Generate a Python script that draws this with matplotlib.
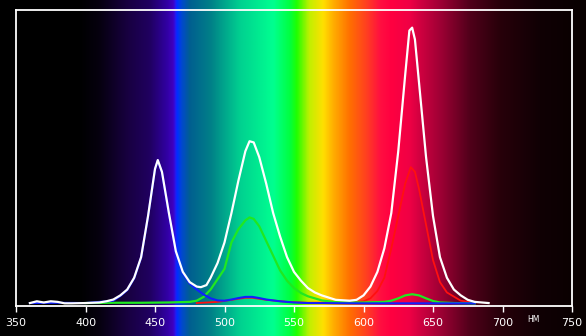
import numpy as np
import matplotlib
matplotlib.use("Agg")
import matplotlib.pyplot as plt
from matplotlib.colors import LinearSegmentedColormap

# spectrum data (nm, relative level)
white_nm = [360, 365, 370, 375, 380, 385, 390, 400, 410, 415, 420, 425, 430, 435, 440, 445,
            450, 452, 455, 460, 465, 470, 475, 480, 483, 487, 490, 495, 500, 505, 510, 515,
            518, 521, 525, 530, 535, 540, 545, 550, 555, 560, 565, 570, 580, 590, 595, 600,
            605, 610, 615, 620, 625, 630, 633, 635, 637, 640, 645, 650, 655, 660, 665, 670,
            675, 680, 690]
white_val = [0.004, 0.010, 0.006, 0.010, 0.008, 0.003, 0.003, 0.004, 0.006, 0.010, 0.016, 0.030,
             0.050, 0.090, 0.160, 0.300, 0.460, 0.490, 0.450, 0.310, 0.180, 0.110, 0.075, 0.060,
             0.058, 0.065, 0.090, 0.140, 0.210, 0.310, 0.420, 0.520, 0.554, 0.550, 0.500, 0.410,
             0.310, 0.230, 0.160, 0.110, 0.080, 0.055, 0.040, 0.030, 0.015, 0.012, 0.015, 0.030,
             0.060, 0.110, 0.190, 0.310, 0.520, 0.780, 0.930, 0.940, 0.900, 0.750, 0.500, 0.300,
             0.160, 0.090, 0.050, 0.030, 0.015, 0.008, 0.004]

blue_nm = [360, 380, 400, 420, 425, 430, 435, 440, 445, 450, 452, 455, 460, 465, 470, 475,
           480, 485, 490, 495, 500, 505, 510, 515, 520, 525, 530, 540, 550, 560, 600, 650, 680]
blue_val = [0.004, 0.005, 0.004, 0.012, 0.028, 0.048, 0.088, 0.158, 0.298, 0.458, 0.488, 0.448,
            0.308, 0.178, 0.105, 0.070, 0.050, 0.033, 0.020, 0.013, 0.012, 0.016, 0.021, 0.025,
            0.025, 0.021, 0.016, 0.010, 0.006, 0.004, 0.003, 0.003, 0.003]

green_nm = [400, 420, 440, 460, 475, 480, 485, 490, 495, 500, 505, 510, 515, 518, 521, 525,
            530, 535, 540, 545, 550, 555, 560, 570, 580, 600, 615, 620, 625, 630, 635, 640,
            645, 650, 655, 665, 680]
green_val = [0.004, 0.005, 0.005, 0.006, 0.008, 0.012, 0.025, 0.050, 0.085, 0.120, 0.210, 0.255,
             0.285, 0.295, 0.290, 0.265, 0.215, 0.165, 0.115, 0.080, 0.055, 0.038, 0.027, 0.013,
             0.007, 0.006, 0.008, 0.012, 0.020, 0.030, 0.034, 0.030, 0.020, 0.011, 0.006, 0.004,
             0.003]

red_nm = [480, 495, 505, 515, 520, 530, 545, 560, 590, 600, 605, 610, 615, 620, 625, 630,
          634, 637, 640, 645, 650, 655, 660, 670, 680]
red_val = [0.004, 0.008, 0.015, 0.022, 0.022, 0.015, 0.008, 0.005, 0.006, 0.010, 0.020, 0.045,
           0.090, 0.190, 0.300, 0.410, 0.466, 0.450, 0.390, 0.270, 0.150, 0.075, 0.040, 0.012,
           0.005]

xticks = [350, 400, 450, 500, 550, 600, 650, 700, 750]

# background spectrum colours
stops = [(338, "#000000"), (395, "#000000"), (410, "#06000f"), (430, "#180040"),
         (446, "#200060"), (458, "#3000a0"), (463, "#4000c0"), (464.5, "#2818f0"),
         (466, "#0030ff"), (469, "#0048d0"), (475, "#005f90"), (490, "#008088"),
         (511, "#00d090"), (535, "#00ff90"), (547, "#00ff40"), (552, "#20ff00"),
         (561, "#c0f000"), (571, "#ffe000"), (578, "#ffb000"), (590, "#ff7000"),
         (602, "#ff4020"), (612, "#ff1040"), (620, "#ff0040"), (633, "#f00045"),
         (641, "#d00040"), (655, "#a00035"), (677, "#50001a"), (698, "#28000a"),
         (727, "#100004"), (760, "#080000")]

fig = plt.figure(figsize=(5.86, 3.36), dpi=100)
fig.patch.set_facecolor("black")

x0 = 350 - 16 * 400 / 556
x1 = 750 + 14 * 400 / 556
pos = [(w - 338) / (760 - 338) for w, _ in stops]
pos[0], pos[-1] = 0.0, 1.0
cmap = LinearSegmentedColormap.from_list("spec", list(zip(pos, [c for _, c in stops])), N=1024)

bg = fig.add_axes([0, 0, 1, 1])
bg.imshow(np.linspace(0, 1, 1200)[None, :], aspect="auto", cmap=cmap,
          extent=[338, 760, 0, 1], interpolation="bilinear")
bg.set_xlim(x0, x1)
bg.set_ylim(0, 1)
bg.axis("off")

ax = fig.add_axes([16 / 586, 30 / 336, 556 / 586, 296 / 336])
ax.patch.set_alpha(0)
ax.plot(red_nm, red_val, color="#ff1010", lw=1.3)
ax.plot(green_nm, green_val, color="#20e820", lw=1.6)
ax.plot(blue_nm, blue_val, color="#1020ff", lw=1.5)
ax.plot(white_nm, white_val, color="white", lw=1.6)

ax.set_xlim(350, 750)
ax.set_ylim(-0.006, 1.0)
ax.set_xticks(xticks)
ax.set_yticks([])
for s in ax.spines.values():
    s.set_color("white")
    s.set_linewidth(1.3)
ax.tick_params(axis="x", colors="white", direction="out", length=4, width=1,
               pad=5, labelsize=8)
ax.text(722.5, -0.044, "НМ", color="white", fontsize=5.5, ha="center", va="center",
        transform=ax.get_xaxis_transform())

fig.savefig("out.png", dpi=100, facecolor="black")
